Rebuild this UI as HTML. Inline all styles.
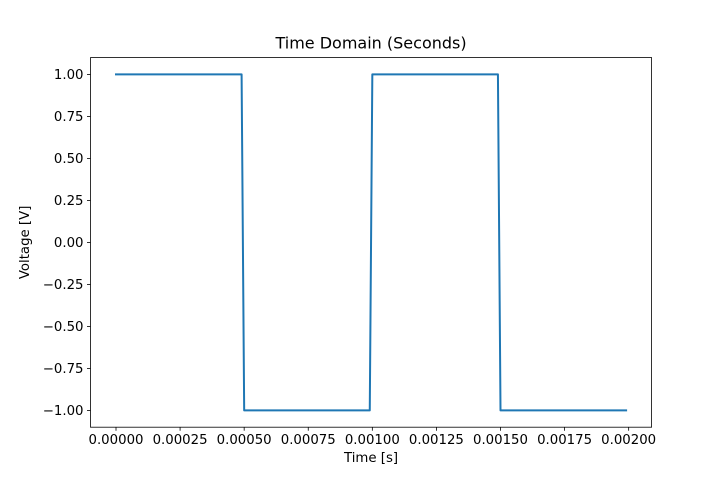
<!DOCTYPE html>
<html>
<head>
<meta charset="utf-8">
<style>
  body { margin:0; background:#fff; }
  svg text { font-family: "DejaVu Sans", "Liberation Sans", sans-serif; fill:#000; }
</style>
</head>
<body>
<svg id="chart" width="724" height="480" xmlns="http://www.w3.org/2000/svg">
  <rect width="724" height="480" fill="#fff"/>
  <g id="plot"></g>
</svg>
<script>
const times = [0, 0.00049, 0.0005, 0.00099, 0.001, 0.00149, 0.0015, 0.00199];
const voltages = [1, 1, -1, -1, 1, 1, -1, -1];
const xTickValues = [0, 0.00025, 0.0005, 0.00075, 0.001, 0.00125, 0.0015, 0.00175, 0.002];
const xTickLabels = ["0.00000","0.00025","0.00050","0.00075","0.00100","0.00125","0.00150","0.00175","0.00200"];
const yTickValues = [1, 0.75, 0.5, 0.25, 0, -0.25, -0.5, -0.75, -1];
const yTickLabels = ["1.00","0.75","0.50","0.25","0.00","\u22120.25","\u22120.50","\u22120.75","\u22121.00"];

const L = 90.5, R = 651.6, T = 57.6, B = 427.2;
const xMin = -0.0000995, xMax = 0.0020895, yMin = -1.1, yMax = 1.1;
const xs = v => L + (v - xMin) / (xMax - xMin) * (R - L);
const ys = v => B - (v - yMin) / (yMax - yMin) * (B - T);
const NS = "http://www.w3.org/2000/svg";
const g = document.getElementById('plot');
function mk(tag, attrs, parent) {
  const e = document.createElementNS(NS, tag);
  for (const k in attrs) e.setAttribute(k, attrs[k]);
  (parent || g).appendChild(e);
  return e;
}

xTickValues.forEach((v, i) => {
  const x = xs(v);
  const t = mk('line', {x1:x, x2:x, y1:B, y2:B+3.5, stroke:'#000', 'stroke-width':0.8});
  
  
  const l = mk('text', {x:x, y:B+17, 'font-size':'13.3px', 'text-anchor':'middle'});
  l.textContent = xTickLabels[i];
  
  
});
yTickValues.forEach((v, i) => {
  const y = ys(v);
  const t = mk('line', {x1:L-3.5, x2:L, y1:y, y2:y, stroke:'#000', 'stroke-width':0.8});
  
  
  const l = mk('text', {x:L-7, y:y+4.8, 'font-size':'13.3px', 'text-anchor':'end'});
  l.textContent = yTickLabels[i];
  
  
});

const pts = times.map((t, i) => xs(t).toFixed(2) + ',' + ys(voltages[i]).toFixed(2)).join(' ');
const line = mk('polyline', {points:pts, fill:'none', stroke:'#1f77b4', 'stroke-width':2, 'stroke-linejoin':'round', 'stroke-linecap':'square'});



const frame = mk('rect', {x:L, y:T, width:R-L, height:B-T, fill:'none', stroke:'#000', 'stroke-width':0.8});



const title = mk('text', {x:(L+R)/2, y:T-9, 'font-size':'16px', 'text-anchor':'middle'});
title.textContent = 'Time Domain (Seconds)';



const xl = mk('text', {x:(L+R)/2, y:B+35, 'font-size':'13.3px', 'text-anchor':'middle'});
xl.textContent = 'Time [s]';



const yl = mk('text', {x:0, y:0, 'font-size':'13.3px', 'text-anchor':'middle', transform:'translate(29,'+((T+B)/2)+') rotate(-90)'});
yl.textContent = 'Voltage [V]';


</script>
</body>
</html>
